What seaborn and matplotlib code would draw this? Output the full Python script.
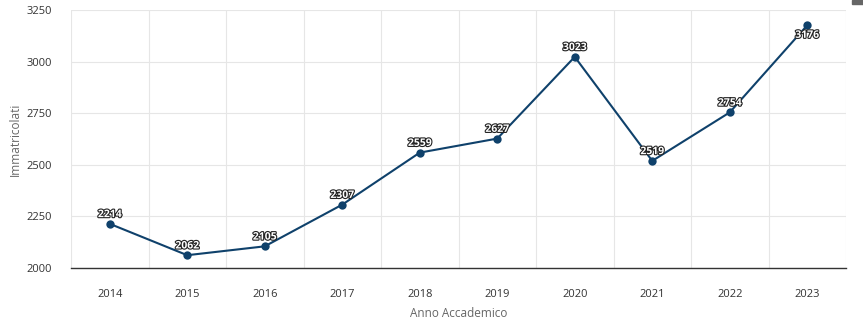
import matplotlib
matplotlib.use("Agg")
import matplotlib.pyplot as plt
import matplotlib.patheffects as pe
import seaborn as sns
import pandas as pd

years = ["2014", "2015", "2016", "2017", "2018", "2019", "2020", "2021", "2022", "2023"]
immatricolati = [2214, 2062, 2105, 2307, 2559, 2627, 3023, 2519, 2754, 3176]
y_ticks = [2000, 2250, 2500, 2750, 3000, 3250]

df = pd.DataFrame({"Anno": years, "Immatricolati": immatricolati})
df["pos"] = range(len(years))

sns.set_theme(style="white")
plt.rcParams["font.family"] = ["Open Sans", "DejaVu Sans"]

fig = plt.figure(figsize=(8.63, 3.23), dpi=100)
ax = fig.add_axes([71/863, 1-268/323, 775/863, 258/323])

color = "#0f416b"
sns.lineplot(data=df, x="pos", y="Immatricolati", ax=ax, color=color,
             linewidth=1.5, marker="o", markersize=6, markeredgewidth=0, zorder=3)

n = len(years)
for i, (xp, v) in enumerate(zip(df["pos"], df["Immatricolati"])):
    if v > 3150:
        yy, va = v - 22, "top"
    else:
        yy, va = v + 18, "bottom"
    ax.text(xp, yy, str(v), ha="center", va=va, fontsize=7.5,
            fontweight="bold", color="white", zorder=4,
            path_effects=[pe.withStroke(linewidth=1.6, foreground="#222222")])

ax.set_xlim(-0.5, n - 0.5)
ax.set_ylim(2000, 3250)
ax.set_yticks(y_ticks)
ax.set_yticklabels([str(t) for t in y_ticks], fontsize=8, color="#333333")
ax.set_xticks(range(n))
ax.set_xticklabels(years, fontsize=8, color="#333333")
ax.set_xticks([i - 0.5 for i in range(n + 1)], minor=True)
ax.grid(False)
ax.grid(True, which="minor", axis="x", color="#e6e6e6", linewidth=0.8)
ax.grid(True, which="major", axis="y", color="#e6e6e6", linewidth=0.8)
ax.tick_params(axis="x", which="both", length=0, pad=15)
ax.tick_params(axis="y", length=0, pad=14)

for s in ["top", "right", "left"]:
    ax.spines[s].set_visible(False)
ax.spines["bottom"].set_color("#333333")
ax.spines["bottom"].set_linewidth(1)

ax.set_xlabel("Anno Accademico", fontsize=8.5, color="#666666", labelpad=5)
ax.set_ylabel("Immatricolati", fontsize=8.5, color="#666666", labelpad=3)

fig.patches.append(plt.Rectangle((852/863, 1-4/323), 11/863, 4/323,
                                 transform=fig.transFigure, color="#666666"))

fig.savefig("out.png", dpi=100)
